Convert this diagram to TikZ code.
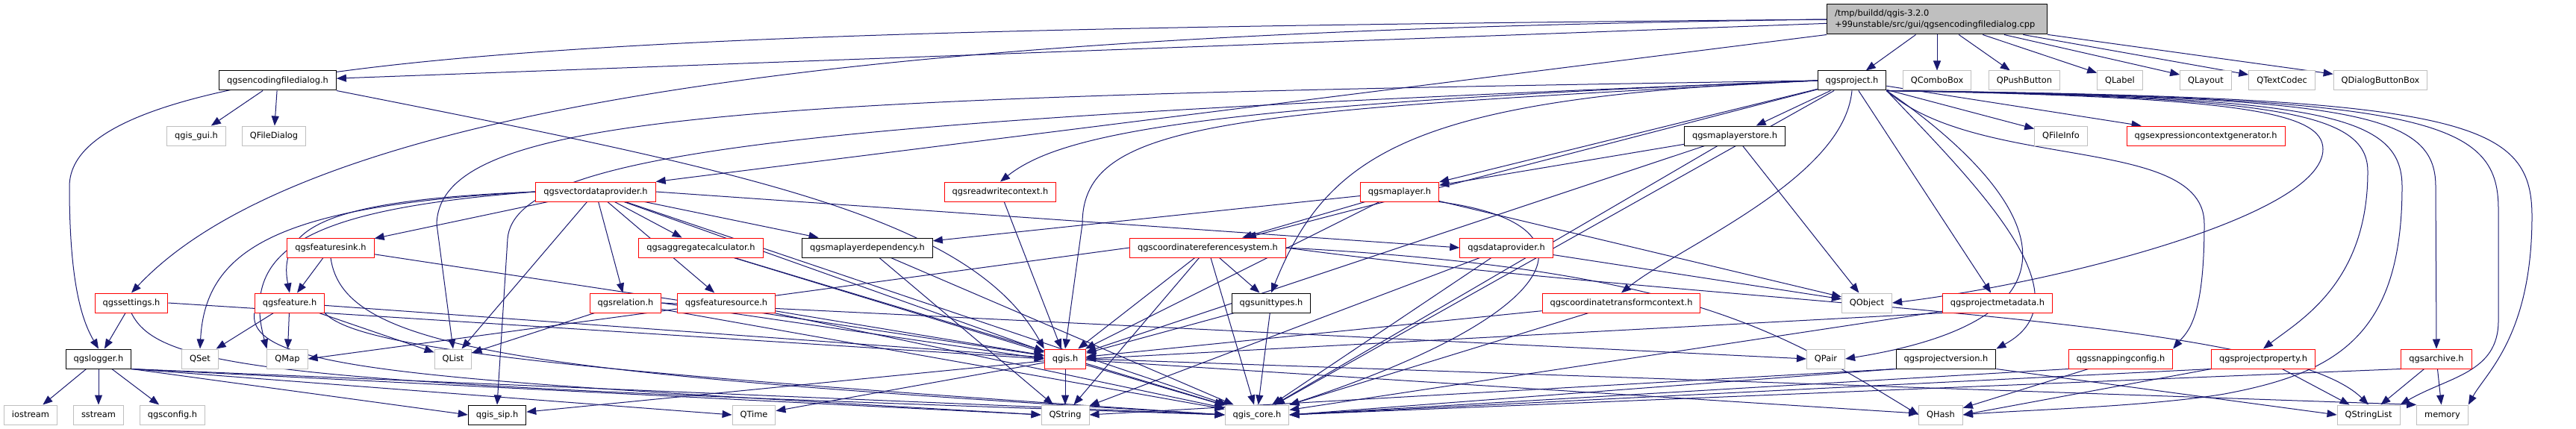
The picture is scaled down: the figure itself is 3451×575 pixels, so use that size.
\documentclass[tikz,border=0pt]{standalone}
\usepackage{fontspec}
\setmainfont{DejaVu Sans}
\usetikzlibrary{arrows.meta, backgrounds}
\definecolor{edgeblue}{HTML}{191970}
\definecolor{grey75}{HTML}{BFBFBF}
\tikzset{
  basebox/.style={fill=white, line width=1pt, inner xsep=10.5pt, inner ysep=0pt,
                  font=\fontsize{11.4pt}{15pt}\selectfont},
  hdr/.style={basebox, draw=black, minimum height=26pt, text height=8.7pt, text depth=2.6pt},
  trn/.style={hdr, draw=red},
  ext/.style={hdr, draw=grey75},
  srcf/.style={basebox, draw=black, fill=grey75, align=left, text width=274pt,
               minimum height=40pt},
  inc/.style={-{Triangle[length=13pt, width=10pt]}, line width=1pt, draw=edgeblue},
}
\begin{document}
\begin{tikzpicture}[x=1pt, y=-1pt]
  \useasboundingbox (0,0) rectangle (3451,575);
  \node[srcf] (main) at (2595,26) {/tmp/buildd/qgis-3.2.0\\+99unstable/src/gui/qgsencodingfiledialog.cpp};

  \node[hdr] (encdlg) at (372,108) {qgsencodingfiledialog.h};
  \node[hdr] (project) at (2481,108) {qgsproject.h};
  \node[ext] (combo) at (2595,108) {QComboBox};
  \node[ext] (pushbtn) at (2712,108) {QPushButton};
  \node[ext] (label) at (2840,108) {QLabel};
  \node[ext] (layout) at (2955,108) {QLayout};
  \node[ext] (codec) at (3057,108) {QTextCodec};
  \node[ext] (btnbox) at (3189,108) {QDialogButtonBox};

  \node[ext] (qgisgui) at (263,182) {qgis\_gui.h};
  \node[ext] (filedlg) at (367,182) {QFileDialog};
  \node[hdr] (store) at (2324,182) {qgsmaplayerstore.h};
  \node[ext] (fileinfo) at (2761,182) {QFileInfo};
  \node[trn] (exprgen) at (2955,182) {qgsexpressioncontextgenerator.h};

  \node[trn] (vdp) at (798,257) {qgsvectordataprovider.h};
  \node[trn] (rwctx) at (1340,257) {qgsreadwritecontext.h};
  \node[trn] (layer) at (1875,257) {qgsmaplayer.h};

  \node[trn] (sink) at (443,332) {qgsfeaturesink.h};
  \node[trn] (aggcalc) at (939,332) {qgsaggregatecalculator.h};
  \node[hdr] (layerdep) at (1162,332) {qgsmaplayerdependency.h};
  \node[trn] (crs) at (1618,332) {qgscoordinatereferencesystem.h};
  \node[trn] (dataprov) at (2018,332) {qgsdataprovider.h};

  \node[trn] (settings) at (176,406) {qgssettings.h};
  \node[trn] (feature) at (388,406) {qgsfeature.h};
  \node[trn] (relation) at (838,406) {qgsrelation.h};
  \node[trn] (source) at (973,406) {qgsfeaturesource.h};
  \node[hdr] (units) at (1703,406) {qgsunittypes.h};
  \node[trn] (ctctx) at (2172,406) {qgscoordinatetransformcontext.h};
  \node[ext] (qobject) at (2501,406) {QObject};
  \node[trn] (meta) at (2676,406) {qgsprojectmetadata.h};

  \node[hdr] (logger) at (132,481) {qgslogger.h};
  \node[ext] (qset) at (268,481) {QSet};
  \node[ext] (qmap) at (385,481) {QMap};
  \node[ext] (qlist) at (607,481) {QList};
  \node[trn] (qgis) at (1427,481) {qgis.h};
  \node[ext] (qpair) at (2446,481) {QPair};
  \node[hdr] (version) at (2607,481) {qgsprojectversion.h};
  \node[trn] (snap) at (2841,481) {qgssnappingconfig.h};
  \node[trn] (property) at (3032,481) {qgsprojectproperty.h};
  \node[trn] (archive) at (3264,481) {qgsarchive.h};

  \node[ext] (iostream) at (41,556) {iostream};
  \node[ext] (sstream) at (132,556) {sstream};
  \node[ext] (config) at (231,556) {qgsconfig.h};
  \node[hdr] (sip) at (666,556) {qgis\_sip.h};
  \node[ext] (qtime) at (1010,556) {QTime};
  \node[ext] (qstring) at (1427,556) {QString};
  \node[ext] (core) at (1684,556) {qgis\_core.h};
  \node[ext] (qhash) at (2600,556) {QHash};
  \node[ext] (strlist) at (3173,556) {QStringList};
  \node[ext] (memory) at (3272,556) {memory};

  \begin{scope}[on background layer]
    \fill[white] (0,0) rectangle (3451,575);
    \draw[inc] (main) -- (encdlg);
    \draw[inc] (main) -- (project);
    \draw[inc] (main) -- (combo);
    \draw[inc] (main) -- (pushbtn);
    \draw[inc] (main) -- (label);
    \draw[inc] (main) -- (layout);
    \draw[inc] (main) -- (codec);
    \draw[inc] (main) -- (btnbox);
    \draw[inc] (main.south west) -- (vdp.north east);
    \draw[inc] (main.west) .. controls (1400,40) and (450,100) .. (settings.north);
    \draw[inc] (main.west) .. controls (900,40) and (93,60) .. (93,250) .. controls (93,380) and (110,430) .. (logger.north);

    \draw[inc] (encdlg) -- (qgisgui);
    \draw[inc] (encdlg) -- (filedlg);
    \draw[inc] (encdlg.south east) .. controls (1000,230) and (1300,290) .. (qgis.north west);

    \draw[inc] (logger) -- (iostream);
    \draw[inc] (logger) -- (sstream);
    \draw[inc] (logger) -- (config);
    \draw[inc] (logger.south east) -- (sip.west);
    \draw[inc] (logger.south east) -- (qtime.west);
    \draw[inc] (logger.south east) -- (qstring.west);
    \draw[inc] (logger.south east) -- (core.west);

    \draw[inc] (settings) -- (logger);
    \draw[inc] (settings.east) -- (qgis.west);
    \draw[inc] (settings.south) .. controls (215,500) and (400,515) .. (core.west);

    \draw[inc] (vdp) -- (sink);
    \draw[inc] (vdp.west) .. controls (450,268) and (370,300) .. (feature.north);
    \draw[inc] (vdp.west) .. controls (380,275) and (275,330) .. (qset.north);
    \draw[inc] (vdp.west) .. controls (420,280) and (320,330) .. (qmap.north west);
    \draw[inc] (vdp) -- (qlist);
    \draw[inc] (vdp) -- (relation);
    \draw[inc] (vdp) -- (source);
    \draw[inc] (vdp) -- (aggcalc);
    \draw[inc] (vdp) -- (layerdep);
    \draw[inc] (vdp.east) -- (dataprov.west);
    \draw[inc] (vdp) -- (qgis);
    \draw[inc] (vdp) -- (core);

    \draw[inc] (rwctx) -- (qgis);

    \draw[inc] (layer) -- (layerdep);
    \draw[inc] (layer) -- (crs);
    \draw[inc] (layer) -- (qgis);
    \draw[inc] (layer) -- (qobject);
    \draw[inc] (layer.south east) .. controls (2150,300) and (2100,420) .. (core.north east);

    \draw[inc] (store) -- (layer);
    \draw[inc] (store) -- (qobject);
    \draw[inc] (store) -- (qgis);
    \draw[inc] (store) -- (core);

    \draw[inc] (project) -- (store);
    \draw[inc] (project) -- (layer);
    \draw[inc] (project) -- (crs);
    \draw[inc] (project) -- (fileinfo);
    \draw[inc] (project) -- (exprgen);
    \draw[inc] (project) -- (meta);
    \draw[inc] (project) -- (core);
    \draw[inc] (project.west) .. controls (1600,140) and (1420,180) .. (rwctx.north);
    \draw[inc] (project.west) .. controls (1650,150) and (1450,160) .. (1450,300) -- (qgis.north);
    \draw[inc] (project.west) .. controls (1100,160) and (690,200) .. (680,320) -- (sip.north);
    \draw[inc] (project.west) .. controls (1000,130) and (590,150) .. (585,300) -- (qlist.north);
    \draw[inc] (project.west) .. controls (1900,130) and (1780,200) .. (units.north);
    \draw[inc] (project.south) .. controls (2470,240) and (2250,330) .. (ctctx.north);
    \draw[inc] (project.south east) .. controls (2650,250) and (2800,400) .. (version.north east);
    \draw[inc] (project.south east) .. controls (2700,240) and (2850,420) .. (qpair.east);
    \draw[inc] (project.south east) .. controls (2650,230) and (2953,180) .. (2953,300) .. controls (2953,430) and (2930,445) .. (snap.north east);
    \draw[inc] (project.south east) .. controls (3000,130) and (3112,150) .. (3112,200) .. controls (3112,290) and (2750,380) .. (qobject.east);
    \draw[inc] (project.south east) .. controls (3050,130) and (3172,150) .. (3172,230) .. controls (3172,380) and (3080,430) .. (property.north);
    \draw[inc] (project.south east) .. controls (3100,130) and (3218,150) .. (3218,250) .. controls (3218,450) and (3130,500) .. (2980,528) .. controls (2880,545) and (2700,550) .. (qhash.east);
    \draw[inc] (project.south east) .. controls (3150,130) and (3263,150) .. (3263,250) -- (archive.north);
    \draw[inc] (project.south east) .. controls (3250,130) and (3347,160) .. (3347,280) -- (3347,430) .. controls (3347,500) and (3280,505) .. (strlist.north east);
    \draw[inc] (project.south east) .. controls (3300,130) and (3392,160) .. (3392,290) .. controls (3392,450) and (3330,500) .. (memory.north east);

    \draw[inc] (crs) -- (qgis);
    \draw[inc] (crs) -- (qstring);
    \draw[inc] (crs) -- (core);
    \draw[inc] (crs) -- (units);
    \draw[inc] (crs.west) -- (qmap.east);
    \draw[inc] (crs.east) .. controls (2250,360) and (2380,440) .. (qhash.west);
    \draw[inc] (crs.east) .. controls (2300,410) and (3050,420) .. (strlist.north);

    \draw[inc] (dataprov) -- (qobject);
    \draw[inc] (dataprov) -- (core);
    \draw[inc] (dataprov) -- (qstring);

    \draw[inc] (ctctx) -- (qgis);
    \draw[inc] (ctctx) -- (core);

    \draw[inc] (meta.south west) -- (qgis.east);
    \draw[inc] (meta) -- (core);

    \draw[inc] (version.south west) -- (qstring.east);
    \draw[inc] (version.south west) -- (core.east);
    \draw[inc] (version.south east) -- (strlist.west);

    \draw[inc] (snap) -- (qhash);
    \draw[inc] (snap.south west) -- (core.east);

    \draw[inc] (property) -- (strlist);
    \draw[inc] (property.south west) -- (core.east);
    \draw[inc] (property.south west) -- (qhash.east);

    \draw[inc] (archive) -- (strlist);
    \draw[inc] (archive) -- (memory);
    \draw[inc] (archive.south west) -- (core.east);

    \draw[inc] (units) -- (qgis);
    \draw[inc] (units) -- (core);

    \draw[inc] (layerdep) -- (core);
    \draw[inc] (layerdep) -- (qstring);

    \draw[inc] (aggcalc) -- (qgis);
    \draw[inc] (aggcalc) -- (core);

    \draw[inc] (sink) -- (feature);
    \draw[inc] (sink.south) .. controls (460,470) and (700,500) .. (core.west);
    \draw[inc] (sink) -- (qgis);

    \draw[inc] (feature) -- (qset);
    \draw[inc] (feature) -- (qmap);
    \draw[inc] (feature) -- (qlist);
    \draw[inc] (feature) -- (qgis);
    \draw[inc] (feature.south west) .. controls (330,500) and (600,510) .. (qstring.west);
    \draw[inc] (feature.south east) .. controls (480,470) and (800,500) .. (core.west);

    \draw[inc] (relation) -- (qlist);
    \draw[inc] (relation.east) -- (qgis.west);
    \draw[inc] (relation) -- (core);
    \draw[inc] (relation.east) -- (qpair.west);

    \draw[inc] (source) -- (qgis);
    \draw[inc] (source) -- (core);

    \draw[inc] (qgis) -- (qstring);
    \draw[inc] (qgis) -- (core);
    \draw[inc] (qgis) -- (sip);
    \draw[inc] (qgis) -- (qtime);
    \draw[inc] (qgis) -- (qhash);
    \draw[inc] (qgis.east) -- (memory.north west);
  \end{scope}
\end{tikzpicture}
\end{document}
